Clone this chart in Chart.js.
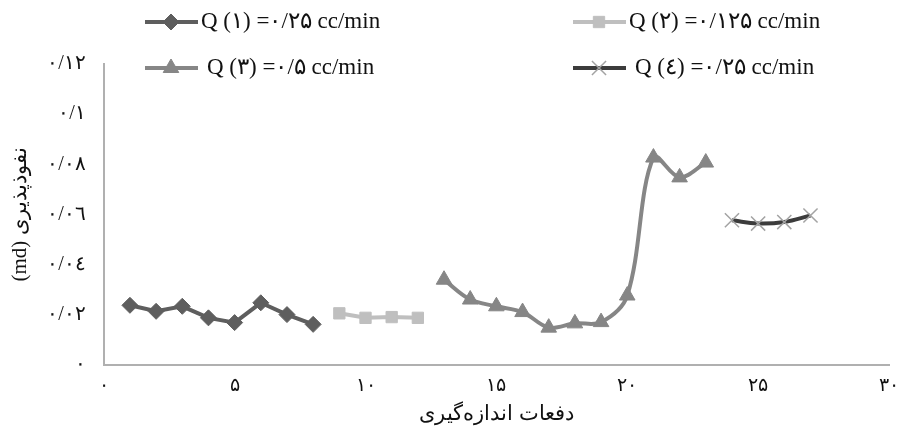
<!DOCTYPE html>
<html>
<head>
<meta charset="utf-8">
<script src="https://cdn.jsdelivr.net/npm/chart.js@4.4.1/dist/chart.umd.min.js"></script>
<style>
    html, body { margin: 0; padding: 0; background: #fff; }
    #wrap { width: 901px; height: 429px; }
</style>
</head>
<body>
<div id="wrap"><canvas id="myChart" width="901" height="429"></canvas></div>
<script>
// подписи серий и делений
const seriesNames = [
    'Q (۱) =۰/۲۵ cc/min',
    'Q (۲) =۰/۱۲۵ cc/min',
    'Q (۳) =۰/۵ cc/min',
    'Q (٤) =۰/۲۵ cc/min'
];
const xTickLabels = ['۰', '۵', '۱۰', '۱۵', '۲۰', '۲۵', '۳۰'];
const yTickLabels = ['۰', '۰/۰۲', '۰/۰٤', '۰/۰٦', '۰/۰۸', '۰/۱', '۰/۱۲'];
const xTitle = 'دفعات اندازه‌گیری';
const yTitle = 'نفوذپذیری (md)';

// номера измерений и значения
const run1X = [1, 2, 3, 4, 5, 6, 7, 8];
const run1Y = [0.0238, 0.0214, 0.0234, 0.0188, 0.0169, 0.0248, 0.0201, 0.0162];
const run2X = [9, 10, 11, 12];
const run2Y = [0.0206, 0.0188, 0.0191, 0.0188];
const run3X = [13, 14, 15, 16, 17, 18, 19, 20, 21, 22, 23];
const run3Y = [0.034, 0.0261, 0.0234, 0.0211, 0.0149, 0.0166, 0.0171, 0.0277, 0.0827, 0.0748, 0.0807];
const run4X = [24, 25, 26, 27];
const run4Y = [0.0577, 0.0564, 0.057, 0.0596];

const toPoints = (xs, ys) => xs.map((x, i) => ({ x: x, y: ys[i] }));

const serif = '"Liberation Serif", "DejaVu Serif", serif';
const canvas = document.getElementById('myChart');

// легенда в две колонки сверху
const legendSlots = [[145, 22], [573, 22], [145, 68], [573, 68]];
const legendPlugin = {
    id: 'twoColLegend',
    afterDraw: chart => {
        const ctx = chart.ctx;
        chart.data.datasets.forEach((ds, i) => {
            const x = legendSlots[i][0];
            const y = legendSlots[i][1];
            ctx.save();
            ctx.strokeStyle = ds.borderColor;
            ctx.lineWidth = ds.borderWidth;
            ctx.beginPath();
            ctx.moveTo(x, y);
            ctx.lineTo(x + 53, y);
            ctx.stroke();
            ctx.fillStyle = ds.pointBackgroundColor;
            ctx.strokeStyle = ds.pointBorderColor;
            ctx.lineWidth = ds.pointBorderWidth;
            Chart.helpers.drawPoint(ctx, {
                pointStyle: ds.pointStyle,
                radius: ds.pointRadius,
                borderWidth: ds.pointBorderWidth
            }, x + 26, y);
            ctx.fillStyle = '#111';
            ctx.font = '23px ' + serif;
            ctx.textAlign = 'left';
            ctx.textBaseline = 'middle';
            ctx.direction = 'ltr';
            ctx.fillText(ds.label, x + 56 + (i > 1 ? 6 : 0), y);
            ctx.restore();
        });
    }
};

const chart = new Chart(canvas, {
    type: 'line',
    data: {
        datasets: [{
            label: seriesNames[0],
            data: toPoints(run1X, run1Y),
            borderColor: '#5e5e5e',
            borderWidth: 4,
            pointStyle: 'rectRot',
            pointRadius: 8,
            pointBackgroundColor: '#5e5e5e',
            pointBorderColor: '#5e5e5e',
            pointBorderWidth: 1,
            tension: 0
        }, {
            label: seriesNames[1],
            data: toPoints(run2X, run2Y),
            borderColor: '#bfbfbf',
            borderWidth: 4,
            pointStyle: 'rect',
            pointRadius: 8,
            pointBackgroundColor: '#bfbfbf',
            pointBorderColor: '#bfbfbf',
            pointBorderWidth: 1,
            tension: 0
        }, {
            label: seriesNames[2],
            data: toPoints(run3X, run3Y),
            borderColor: '#868686',
            borderWidth: 4,
            pointStyle: 'triangle',
            pointRadius: 9,
            pointBackgroundColor: '#868686',
            pointBorderColor: '#868686',
            pointBorderWidth: 1,
            tension: 0.35
        }, {
            label: seriesNames[3],
            data: toPoints(run4X, run4Y),
            borderColor: '#3c3c3c',
            borderWidth: 4,
            pointStyle: 'crossRot',
            pointRadius: 10,
            pointBackgroundColor: '#a3a3a3',
            pointBorderColor: '#a3a3a3',
            pointBorderWidth: 1.5,
            tension: 0.4
        }]
    },
    options: {
        responsive: false,
        animation: false,
        layout: {
            padding: { top: 64, right: 0, left: 4, bottom: 0 }
        },
        plugins: {
            legend: { display: false },
            tooltip: { enabled: false }
        },
        scales: {
            x: {
                type: 'linear',
                min: 0,
                max: 30,
                grid: { display: false },
                border: { display: true, color: '#b0b0b0', width: 2 },
                ticks: {
                    stepSize: 5,
                    padding: 2,
                    color: '#111',
                    font: { size: 19, family: serif },
                    callback: (value, index) => xTickLabels[index]
                },
                title: {
                    display: true,
                    text: xTitle,
                    color: '#111',
                    font: { size: 21, family: serif },
                    padding: { top: 2, bottom: 2 }
                }
            },
            y: {
                min: 0,
                max: 0.12,
                grid: { display: false },
                border: { display: true, color: '#b0b0b0', width: 2 },
                ticks: {
                    stepSize: 0.02,
                    padding: 10,
                    color: '#111',
                    font: { size: 20, family: serif },
                    callback: (value, index) => yTickLabels[index]
                },
                title: {
                    display: true,
                    text: '\u202B' + yTitle + '\u202C',
                    color: '#111',
                    font: { size: 21, family: serif },
                    padding: { bottom: 4 }
                }
            }
        }
    },
    plugins: [legendPlugin]
});
</script>
</body>
</html>
